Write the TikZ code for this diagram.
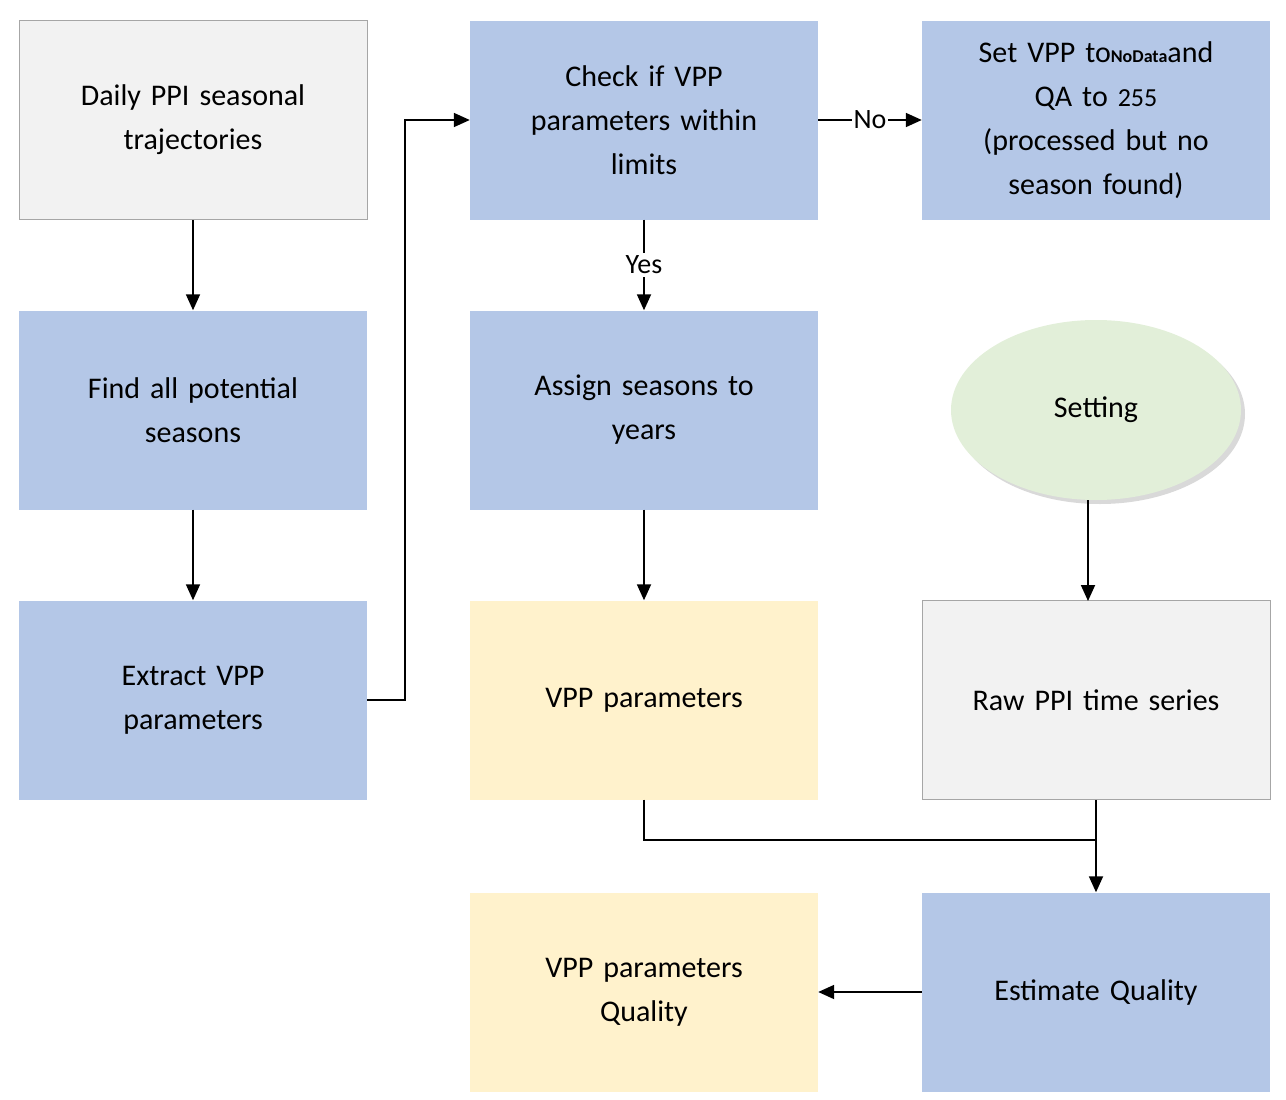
\documentclass[tikz,border=0pt]{standalone}
\usepackage{fontspec}
\setmainfont{Carlito}
\usetikzlibrary{arrows.meta,shadows,shapes.geometric}
\definecolor{bl}{HTML}{B4C7E7}
\definecolor{gr}{HTML}{F2F2F2}
\definecolor{ye}{HTML}{FFF2CC}
\definecolor{gn}{HTML}{E2EFD9}
\begin{document}
\begin{tikzpicture}[x=1pt,y=-1pt,
 box/.style={minimum width=348pt,minimum height=199pt,align=center,font=\fontsize{30}{44}\selectfont,inner sep=0pt,text width=330pt},
 blue/.style={box,fill=bl},
 grey/.style={box,fill=gr,draw=gray!70,line width=1pt},
 yel/.style={box,fill=ye},
 arr/.style={-{Triangle[length=16pt,width=14pt]},line width=1.8pt}]
\useasboundingbox (0,0) rectangle (1286,1100);
\node[grey] (daily) at (193,120) {Daily PPI seasonal\\trajectories};
\node[blue] (find) at (193,410) {Find all potential\\seasons};
\node[blue] (extract) at (193,700) {Extract VPP\\parameters};
\node[blue] (check) at (644,120) {Check if VPP\\parameters within\\limits};
\node[blue] (assign) at (644,410) {Assign seasons to\\years};
\node[yel] (vpp) at (644,700) {VPP parameters};
\node[yel] (qual) at (644,992) {VPP parameters\\Quality};
\node[blue] (set) at (1096,120) {Set VPP to{\fontsize{18}{20}\selectfont\bfseries NoData}and\\QA to {\fontsize{26}{30}\selectfont 255}\\(processed but no\\season found)};
\node[ellipse,fill=gn,minimum width=290pt,minimum height=180pt,font=\fontsize{30}{36}\selectfont,drop shadow={opacity=0.3,shadow xshift=4pt,shadow yshift=-4pt}] (setting) at (1096,410) {Setting};
\node[grey] (raw) at (1096,700) {Raw PPI time series};
\node[blue] (est) at (1096,992) {Estimate Quality};
\coordinate (c1) at (405,700);
\coordinate (c2) at (405,120);
\coordinate (m1) at (644,840);
\coordinate (m2) at (1096,840);
\draw[arr] (daily) -- (find);
\draw[arr] (find) -- (extract);
\draw[arr] (extract.east) -- (c1) -- (c2) -- (check.west);
\draw[arr] (check.east) -- node[fill=white,inner sep=2pt,font=\fontsize{28}{30}\selectfont]{No} (set.west);
\draw[arr] (check.south) -- node[fill=white,inner sep=3pt,font=\fontsize{28}{30}\selectfont]{Yes} (assign.north);
\draw[arr] (assign) -- (vpp);
\draw[arr] (1088,500) -- (1088,601);
\draw[line width=1.8pt] (vpp.south) -- (m1) -- (m2);
\draw[arr] (raw.south) -- (est.north);
\draw[arr] (est) -- (qual);
\end{tikzpicture}
\end{document}
